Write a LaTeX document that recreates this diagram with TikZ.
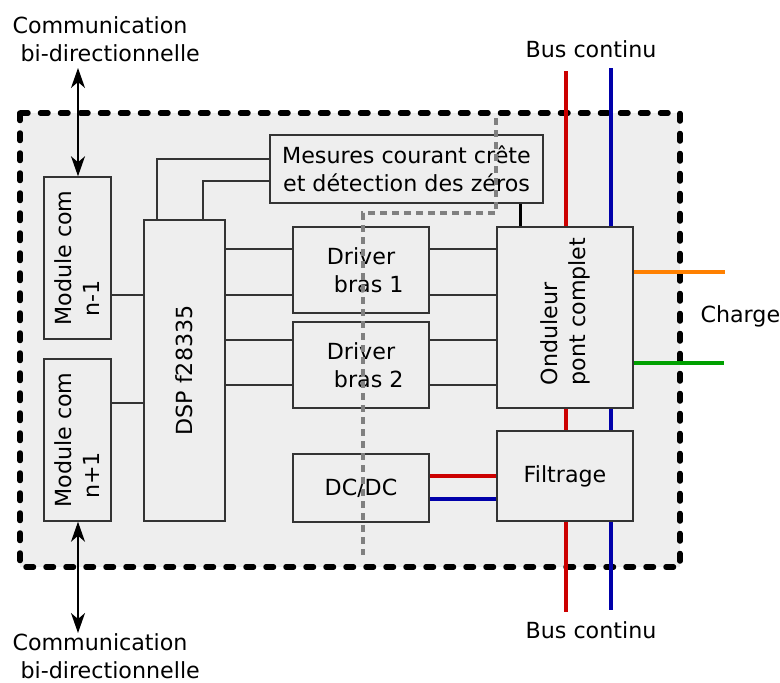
\documentclass[tikz,border=0pt]{standalone}
\usepackage{fontspec}
\setmainfont{DejaVu Sans}
\usepackage{xcolor}
\usepackage{tikz}
\usetikzlibrary{arrows.meta, positioning, calc}
\definecolor{fond}{HTML}{EEEEEE}
\definecolor{trait}{HTML}{333333}
\definecolor{rouge}{HTML}{CC0000}
\definecolor{bleu}{HTML}{0000AA}
\definecolor{phaseA}{HTML}{FF8000}
\definecolor{phaseB}{HTML}{00A000}
\definecolor{isol}{HTML}{808080}

\begin{document}
\begin{tikzpicture}[x=1pt, y=-1pt, font=\fontsize{22.2}{28}\selectfont,
  bloc/.style={draw=trait, line width=1.5pt, fill=fond, inner sep=0pt, align=center},
  liaison/.style={draw=trait, line width=1.3pt},
  bus/.style={line width=4pt},
  fleche/.style={<->, line width=1.3pt, >={Stealth[length=20pt, width=14pt, inset=6pt]}}]
\useasboundingbox (0,0) rectangle (780,683);
% Zone carte - pointilles
\draw[line width=5.5pt, dash pattern=on 7.5pt off 12.5pt, line cap=round, fill=fond] (20,113) rectangle (680,567);
%
% Blocs
\node[bloc, minimum width=67pt, minimum height=162pt] (mod1) at (77.5,258) {};
\node[rotate=90, align=left] at (mod1) {Module com\\\hspace*{0.4em}n-1};
\node[bloc, minimum width=67pt, minimum height=162pt] (mod2) at (77.5,440) {};
\node[rotate=90, align=left] at (mod2) {Module com\\\hspace*{0.4em}n+1};
\node[bloc, minimum width=81pt, minimum height=301pt] (dsp) at (184.5,370.5) {};
\node[rotate=90] at (dsp) {DSP f28335};
\node[bloc, minimum width=273pt, minimum height=68pt] (mes) at (406.5,169) {Mesures courant crête\\et détection des zéros};
\node[bloc, minimum width=136pt, minimum height=86pt] (drv1) at (361,270) {Driver\\\hspace*{0.7em}bras 1};
\node[bloc, minimum width=136pt, minimum height=86pt] (drv2) at (361,365) {Driver\\\hspace*{0.7em}bras 2};
\node[bloc, minimum width=136pt, minimum height=68pt] (dcdc) at (361,488) {DC/DC};
\node[bloc, minimum width=136pt, minimum height=181pt] (ond) at (565,317.5) {};
\node[rotate=90, align=left] at ([yshift=6pt]ond.center) {Onduleur\\pont complet};
\node[bloc, minimum width=136pt, minimum height=90pt] (filt) at (565,476) {Filtrage};
%
% Liaisons de commande
\coordinate (l1) at (0,249);
\coordinate (l2) at (0,295);
\coordinate (l3) at (0,340);
\coordinate (l4) at (0,385);
\coordinate (lm) at (0,403);
\draw[liaison] (mod1.east |- l2) -- (dsp.west |- l2);
\draw[liaison] (mod2.east |- lm) -- (dsp.west |- lm);
\draw[liaison] (dsp.east |- l1) -- (drv1.west |- l1);
\draw[liaison] (dsp.east |- l2) -- (drv1.west |- l2);
\draw[liaison] (dsp.east |- l3) -- (drv2.west |- l3);
\draw[liaison] (dsp.east |- l4) -- (drv2.west |- l4);
\draw[liaison] (drv1.east |- l1) -- (ond.west |- l1);
\draw[liaison] (drv1.east |- l2) -- (ond.west |- l2);
\draw[liaison] (drv2.east |- l3) -- (ond.west |- l3);
\draw[liaison] (drv2.east |- l4) -- (ond.west |- l4);
\draw[liaison] ([xshift=-27.5pt]dsp.north) |- ([yshift=10pt]mes.west);
\draw[liaison] ([xshift=18.5pt]dsp.north) |- ([yshift=-12pt]mes.west);
\coordinate (mesout) at ([xshift=113.5pt]mes.south);
\draw[line width=3pt] (mesout) -- (mesout |- ond.north);
%
% Bus continu
\coordinate (plus) at (566,71);
\coordinate (moins) at (611,68);
\coordinate (plusbas) at (566,612);
\coordinate (moinsbas) at (611,610);
\draw[bus, rouge] (plus) -- (plus |- ond.north);
\draw[bus, rouge] (plus |- ond.south) -- (plus |- filt.north);
\draw[bus, rouge] (plus |- filt.south) -- (plusbas);
\draw[bus, bleu] (moins) -- (moins |- ond.north);
\draw[bus, bleu] (moins |- ond.south) -- (moins |- filt.north);
\draw[bus, bleu] (moins |- filt.south) -- (moinsbas);
\coordinate (dcp) at ([yshift=12pt]dcdc.east);
\coordinate (dcm) at ([yshift=-11pt]dcdc.east);
\draw[bus, rouge] (dcp) -- (dcp -| filt.west);
\draw[bus, bleu] (dcm) -- (dcm -| filt.west);
%
% Charge
\coordinate (ch1) at (725,272);
\coordinate (ch2) at (724,363);
\draw[bus, phaseA] (ond.east |- ch1) -- (ch1);
\draw[bus, phaseB] (ond.east |- ch2) -- (ch2);
%
% Isolation
\draw[line width=3.5pt, isol, dash pattern=on 7pt off 5pt] (496,118) -- (496,213) -- (363,213) -- (363,555);
%
% Communication
\coordinate (comhaut) at (78,68);
\coordinate (combas) at (78,633);
\draw[fleche] (comhaut) -- (comhaut |- mod1.north);
\draw[fleche] (mod2.south -| combas) -- (combas);
%
% Textes
\node[anchor=base west, align=left] (txthaut) at (9,61) {Communication\\\hspace*{0.36em}bi-directionnelle};
\node[anchor=base west, align=left] (txtbas) at (9,678) {Communication\\\hspace*{0.36em}bi-directionnelle};
\node[anchor=base] (bushaut) at (591,57) {Bus continu};
\node[anchor=base] (busbas) at (591,638) {Bus continu};
\node[anchor=base west] (charge) at (697,322) {Charge};
\end{tikzpicture}
\end{document}
